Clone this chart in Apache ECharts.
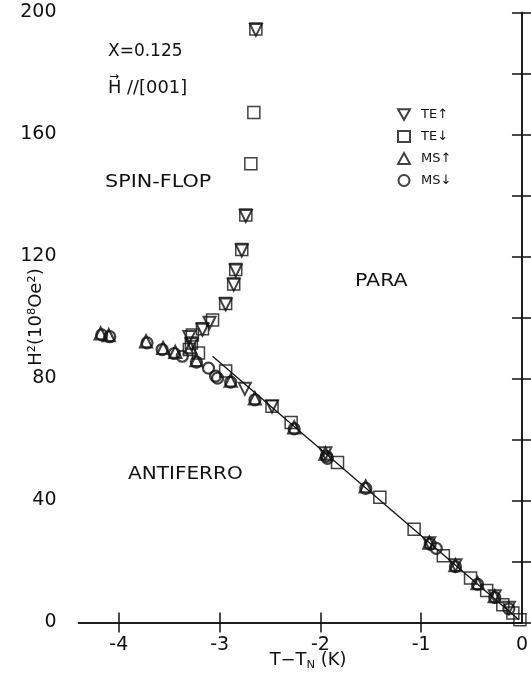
<!DOCTYPE html>
<html><head><meta charset="utf-8">
<script src="https://cdn.jsdelivr.net/npm/echarts@6/dist/echarts.min.js"></script>
<style>html,body{margin:0;padding:0;background:#fff;}#c{width:531px;height:677px;}</style>
</head><body><div id="c"></div>
<script>
// ---- data (T - T_N in K, H^2 in 10^8 Oe^2) ----
const xTickValues = [-4, -3, -2, -1];
const xLabelValues = [-4, -3, -2, -1, 0];
const xTickLabels = ['-4', '-3', '-2', '-1', '0'];
const yTickLabels = ['0', '40', '80', '120', '160', '200'];
const seriesNames = ['TE↑', 'TE↓', 'MS↑', 'MS↓'];

const teUp = [
  [-2.64,194.3],[-2.74,133.3],[-2.78,122.0],[-2.84,115.4],[-2.86,110.7],[-2.94,104.3],
  [-3.10,98.3],[-3.17,96.0],[-3.30,93.6],[-3.28,91.2],[-2.75,76.6],[-2.48,70.8],
  [-1.95,55.5],[-0.92,26.0],[-0.66,18.8],[-0.27,8.6],[-0.13,4.8]
];
const teDown = [
  [-2.64,194.6],[-2.66,167.2],[-2.69,150.4],[-2.74,133.6],[-2.78,122.3],[-2.84,115.7],
  [-2.86,111.0],[-2.94,104.6],[-3.07,99.2],[-3.17,96.3],[-3.27,94.3],[-3.28,91.6],
  [-3.30,89.5],[-3.21,88.4],[-2.94,82.5],[-2.48,70.9],[-2.29,65.6],[-1.83,52.5],
  [-1.41,41.1],[-1.07,30.6],[-0.78,21.9],[-0.51,14.6],[-0.35,10.5],[-0.19,5.8],
  [-0.09,3.1],[-0.02,0.9]
];
const msUp = [
  [-4.18,94.8],[-4.10,94.2],[-3.73,92.2],[-3.56,90.0],[-3.44,88.7],[-3.29,90.2],
  [-3.23,86.0],[-2.89,79.3],[-2.65,73.5],[-2.26,64.0],[-1.95,55.4],[-1.55,44.6],
  [-0.92,26.2],[-0.66,18.8],[-0.44,12.9],[-0.27,8.6]
];
const msDown = [
  [-4.17,94.3],[-4.09,93.7],[-3.72,91.7],[-3.57,89.5],[-3.45,88.2],[-3.37,87.3],
  [-3.23,85.4],[-3.11,83.4],[-3.04,80.8],[-3.02,80.1],[-2.89,78.8],[-2.65,73.0],
  [-2.26,63.5],[-1.94,54.5],[-1.93,53.8],[-1.55,44.0],[-0.91,25.7],[-0.85,24.3],
  [-0.66,18.3],[-0.44,12.5],[-0.27,8.2],[-0.13,4.5]
];
const paraLine = [[-3.07,87.3],[-0.03,0.9]];

// ---- chart ----
const INK = '#111';
const FONT = 'DejaVu Sans';
const chart = echarts.init(document.getElementById('c'), null, {renderer: 'canvas'});
const downTri = 'path://M0,0 L10,0 L5,8.7 Z';

function scat(name, data, symbol, size, bw) {
  return {
    name: name, type: 'scatter', data: data, symbol: symbol, symbolSize: size,
    itemStyle: {color: 'rgba(0,0,0,0)', borderColor: INK, borderWidth: bw},
    emphasis: {disabled: true}, z: 3
  };
}
const axisLineStyle = {color: INK, width: 1.5};

chart.setOption({
  animation: false,
  backgroundColor: '#fff',
  grid: {left: 78.5, right: 6.5, top: 12.5, bottom: 54.5, containLabel: false},
  xAxis: [
    {type: 'value', min: -4.4, max: 0, position: 'bottom',
     axisLine: {lineStyle: axisLineStyle},
     axisTick: {inside: true, length: 10, customValues: xTickValues, lineStyle: axisLineStyle},
     axisLabel: {customValues: xLabelValues, margin: 13, color: INK, fontSize: 19, fontFamily: FONT,
       formatter: v => xTickLabels[xLabelValues.indexOf(Math.round(v))] || ''},
     splitLine: {show: false}},
    {type: 'value', min: -4.4, max: 0, position: 'top',
     axisLine: {lineStyle: axisLineStyle},
     axisTick: {inside: true, length: 10, customValues: xTickValues, lineStyle: axisLineStyle},
     axisLabel: {show: false}, splitLine: {show: false}}
  ],
  yAxis: [
    {type: 'value', min: 0, max: 200, interval: 20, position: 'left',
     axisLine: {lineStyle: axisLineStyle},
     axisTick: {inside: true, length: 10, lineStyle: axisLineStyle},
     axisLabel: {margin: 22, color: INK, fontSize: 19, fontFamily: FONT,
       formatter: v => yTickLabels.indexOf(String(v)) >= 0 ? String(v) : ''},
     splitLine: {show: false}},
    {type: 'value', min: 0, max: 200, interval: 20, position: 'right',
     axisLine: {lineStyle: axisLineStyle},
     axisTick: {inside: true, length: 10, lineStyle: axisLineStyle},
     axisLabel: {show: false}, splitLine: {show: false}}
  ],
  legend: {
    data: seriesNames, orient: 'vertical', left: 392, top: 103,
    itemWidth: 12, itemHeight: 11, itemGap: 9, selectedMode: false,
    textStyle: {color: INK, fontSize: 13, fontFamily: FONT, padding: [0, 0, 0, 6]}
  },
  series: [
    {type: 'line', data: paraLine, symbol: 'none', lineStyle: {color: INK, width: 1.3},
     emphasis: {disabled: true}, z: 2, silent: true},
    scat(seriesNames[0], teUp, downTri, 12, 2),
    scat(seriesNames[1], teDown, 'rect', 12, 1.5),
    scat(seriesNames[2], msUp, 'triangle', 12, 2.2),
    scat(seriesNames[3], msDown, 'circle', 11, 2.2)
  ],
  graphic: [
    {type: 'text', x: 108, y: 52, style: {text: 'X=0.125', fontSize: 17, fontFamily: FONT, fill: INK, verticalAlign: 'middle'}},
    {type: 'text', x: 108, y: 89, scaleX: 1.05, style: {text: 'H //[001]', fontSize: 17, fontFamily: FONT, fill: INK, verticalAlign: 'middle'}},
    {type: 'text', x: 114, y: 77, style: {text: '→', fontSize: 12, fontFamily: FONT, fill: INK, align: 'center', verticalAlign: 'middle'}},
    {type: 'text', x: 105, y: 183, scaleX: 1.22, style: {text: 'SPIN-FLOP', fontSize: 17, fontFamily: FONT, fill: INK, verticalAlign: 'middle'}},
    {type: 'text', x: 355, y: 282, scaleX: 1.21, style: {text: 'PARA', fontSize: 17, fontFamily: FONT, fill: INK, verticalAlign: 'middle'}},
    {type: 'text', x: 128, y: 475, scaleX: 1.18, style: {text: 'ANTIFERRO', fontSize: 17, fontFamily: FONT, fill: INK, verticalAlign: 'middle'}},
    {type: 'text', x: 36, y: 317, rotation: Math.PI / 2,
     style: {text: 'H²(10⁸Oe²)', fontSize: 18, fontFamily: FONT, fill: INK, align: 'center', verticalAlign: 'middle'}},
    {type: 'text', x: 308, y: 661, scaleX: 1.05,
     style: {text: '{a|T−T}{s|N}{a| (K)}', align: 'center', verticalAlign: 'middle', fill: INK,
       rich: {a: {fontSize: 17, fontFamily: FONT, lineHeight: 20, verticalAlign: 'middle', fill: INK},
              s: {fontSize: 11, fontFamily: FONT, lineHeight: 11, verticalAlign: 'bottom', fill: INK}}}}
  ]
});
</script>
</body></html>
